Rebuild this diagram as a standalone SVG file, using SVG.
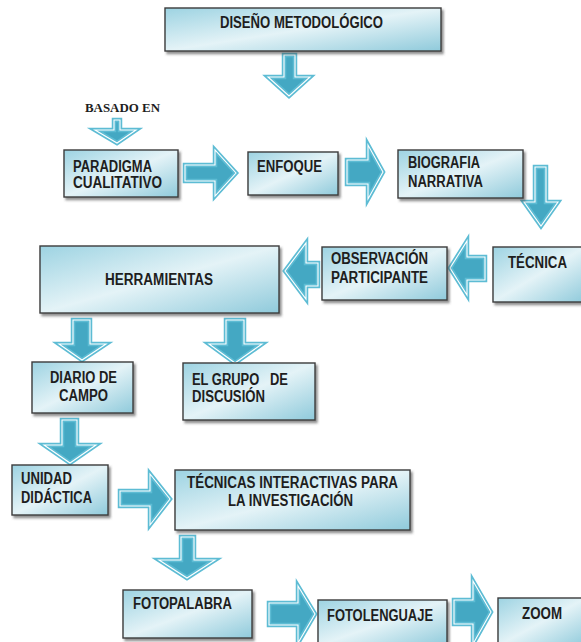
<svg xmlns="http://www.w3.org/2000/svg" width="581" height="642" viewBox="0 0 581 642">
<defs>
<linearGradient id="boxg" x1="0" y1="0" x2="1" y2="1">
<stop offset="0" stop-color="#9dd3e2"/>
<stop offset="0.5" stop-color="#e4f3f7"/>
<stop offset="1" stop-color="#8fcadb"/>
</linearGradient>
<filter id="sh" x="-10%" y="-10%" width="130%" height="140%">
<feDropShadow dx="2" dy="2.5" stdDeviation="1.2" flood-color="#444" flood-opacity="0.6"/>
</filter>
</defs>
<style>
.box{fill:url(#boxg);stroke:#3c3c3c;stroke-width:1.4;filter:url(#sh)}
.t{font-family:"Liberation Sans Narrow","Liberation Sans",Arial,sans-serif;font-weight:bold;font-size:16px;fill:#1e1e1e;white-space:pre}
.s{font-family:"Liberation Serif","Times New Roman",serif;font-weight:bold;font-size:12px;fill:#1e1e1e}
.ao{fill:#44a8c3;stroke:#5dbcd4;stroke-width:4.5;stroke-linejoin:miter}
.ai{fill:none;stroke:#ffffff;stroke-width:1.1;stroke-linejoin:miter}
</style>
<rect width="581" height="642" fill="#ffffff"/>

<g id="connectors">
<path class="ao" d="M284,55 H295 V77 H310 L289,96 L268,77 H284 Z"/>
<path class="ai" d="M284,55 H295 V77 H310 L289,96 L268,77 H284 Z"/>
<path class="ao" d="M114,120 H120 V130 H136 L117,143 L95,130 H114 Z"/>
<path class="ai" d="M114,120 H120 V130 H136 L117,143 L95,130 H114 Z"/>
<path class="ao" d="M185,165 H215 V150 L236,173 L215,196 V181 H185 Z"/>
<path class="ai" d="M185,165 H215 V150 L236,173 L215,196 V181 H185 Z"/>
<path class="ao" d="M347,160 H368 V145 L383,172 L368,199 V184 H347 Z"/>
<path class="ai" d="M347,160 H368 V145 L383,172 L368,199 V184 H347 Z"/>
<path class="ao" d="M535,167 H546 V202 H558 L541,226 L524,202 H535 Z"/>
<path class="ai" d="M535,167 H546 V202 H558 L541,226 L524,202 H535 Z"/>
<path class="ao" d="M485,257 H467 V241 L450,268 L467,295 V280 H485 Z"/>
<path class="ai" d="M485,257 H467 V241 L450,268 L467,295 V280 H485 Z"/>
<path class="ao" d="M318,263 H306 V243 L285,271 L306,299 V286 H318 Z"/>
<path class="ai" d="M318,263 H306 V243 L285,271 L306,299 V286 H318 Z"/>
<path class="ao" d="M73,320 H90 V344 H106 L82,360 L59,344 H73 Z"/>
<path class="ai" d="M73,320 H90 V344 H106 L82,360 L59,344 H73 Z"/>
<path class="ao" d="M226,320 H244 V344 H262 L235,363 L209,344 H226 Z"/>
<path class="ai" d="M226,320 H244 V344 H262 L235,363 L209,344 H226 Z"/>
<path class="ao" d="M62,420 H77 V445 H96 L70,463 L44,445 H62 Z"/>
<path class="ai" d="M62,420 H77 V445 H96 L70,463 L44,445 H62 Z"/>
<path class="ao" d="M120,491 H150 V474 L170,499 L150,525 V506 H120 Z"/>
<path class="ai" d="M120,491 H150 V474 L170,499 L150,525 V506 H120 Z"/>
<path class="ao" d="M181,537 H194 V560 H215 L187,578 L159,560 H181 Z"/>
<path class="ai" d="M181,537 H194 V560 H215 L187,578 L159,560 H181 Z"/>
<path class="ao" d="M269,603 H298 V586 L315,614 L298,643 V625 H269 Z"/>
<path class="ai" d="M269,603 H298 V586 L315,614 L298,643 V625 H269 Z"/>
<path class="ao" d="M454,600 H473 V581 L491,612 L473,644 V624 H454 Z"/>
<path class="ai" d="M454,600 H473 V581 L491,612 L473,644 V624 H454 Z"/>
</g>

<g id="n-diseno">
<rect class="box" x="165" y="8" width="276" height="43"/>
<text class="t" x="220" y="28" textLength="163" lengthAdjust="spacingAndGlyphs">DISEÑO METODOLÓGICO</text>
</g>
<g id="n-basado">
<text class="s" x="85" y="112" textLength="75" lengthAdjust="spacingAndGlyphs">BASADO EN</text>
</g>
<g id="n-paradigma">
<rect class="box" x="64" y="150" width="114" height="47"/>
<text class="t" x="73" y="172" textLength="79" lengthAdjust="spacingAndGlyphs">PARADIGMA</text>
<text class="t" x="73" y="188" textLength="89" lengthAdjust="spacingAndGlyphs">CUALITATIVO</text>
</g>
<g id="n-enfoque">
<rect class="box" x="248" y="152" width="90" height="43"/>
<text class="t" x="257" y="172" textLength="65" lengthAdjust="spacingAndGlyphs">ENFOQUE</text>
</g>
<g id="n-biografia">
<rect class="box" x="398" y="150" width="125" height="48"/>
<text class="t" x="408" y="168" textLength="72" lengthAdjust="spacingAndGlyphs">BIOGRAFIA</text>
<text class="t" x="408" y="187" textLength="75" lengthAdjust="spacingAndGlyphs">NARRATIVA</text>
</g>
<g id="n-tecnica">
<rect class="box" x="493" y="247" width="92" height="55"/>
<text class="t" x="508" y="268" textLength="59" lengthAdjust="spacingAndGlyphs">TÉCNICA</text>
</g>
<g id="n-observacion">
<rect class="box" x="322" y="247" width="125" height="53"/>
<text class="t" x="331" y="264" textLength="97" lengthAdjust="spacingAndGlyphs">OBSERVACIÓN</text>
<text class="t" x="331" y="283" textLength="97" lengthAdjust="spacingAndGlyphs">PARTICIPANTE</text>
</g>
<g id="n-herramientas">
<rect class="box" x="40" y="246" width="239" height="67"/>
<text class="t" x="105" y="285" textLength="108" lengthAdjust="spacingAndGlyphs">HERRAMIENTAS</text>
</g>
<g id="n-diario">
<rect class="box" x="32" y="362" width="101" height="51"/>
<text class="t" x="50" y="383" textLength="67" lengthAdjust="spacingAndGlyphs">DIARIO DE</text>
<text class="t" x="59" y="401" textLength="49" lengthAdjust="spacingAndGlyphs">CAMPO</text>
</g>
<g id="n-grupo">
<rect class="box" x="183" y="363" width="132" height="57"/>
<text class="t" x="192" y="385" textLength="96" lengthAdjust="spacingAndGlyphs" xml:space="preserve">EL GRUPO   DE</text>
<text class="t" x="192" y="402" textLength="73" lengthAdjust="spacingAndGlyphs">DISCUSIÓN</text>
</g>
<g id="n-unidad">
<rect class="box" x="12" y="465" width="96" height="50"/>
<text class="t" x="21" y="484" textLength="51" lengthAdjust="spacingAndGlyphs">UNIDAD</text>
<text class="t" x="21" y="503" textLength="71" lengthAdjust="spacingAndGlyphs">DIDÁCTICA</text>
</g>
<g id="n-tecnicas">
<rect class="box" x="175" y="470" width="235" height="60"/>
<text class="t" x="187" y="488" textLength="211" lengthAdjust="spacingAndGlyphs">TÉCNICAS INTERACTIVAS PARA</text>
<text class="t" x="228" y="506" textLength="125" lengthAdjust="spacingAndGlyphs">LA INVESTIGACIÓN</text>
</g>
<g id="n-fotopalabra">
<rect class="box" x="123" y="590" width="129" height="48"/>
<text class="t" x="133" y="609" textLength="99" lengthAdjust="spacingAndGlyphs">FOTOPALABRA</text>
</g>
<g id="n-fotolenguaje">
<rect class="box" x="318" y="600" width="129" height="46"/>
<text class="t" x="327" y="621" textLength="106" lengthAdjust="spacingAndGlyphs">FOTOLENGUAJE</text>
</g>
<g id="n-zoom">
<rect class="box" x="498" y="598" width="88" height="48"/>
<text class="t" x="522" y="619" textLength="40" lengthAdjust="spacingAndGlyphs">ZOOM</text>
</g>
</svg>
